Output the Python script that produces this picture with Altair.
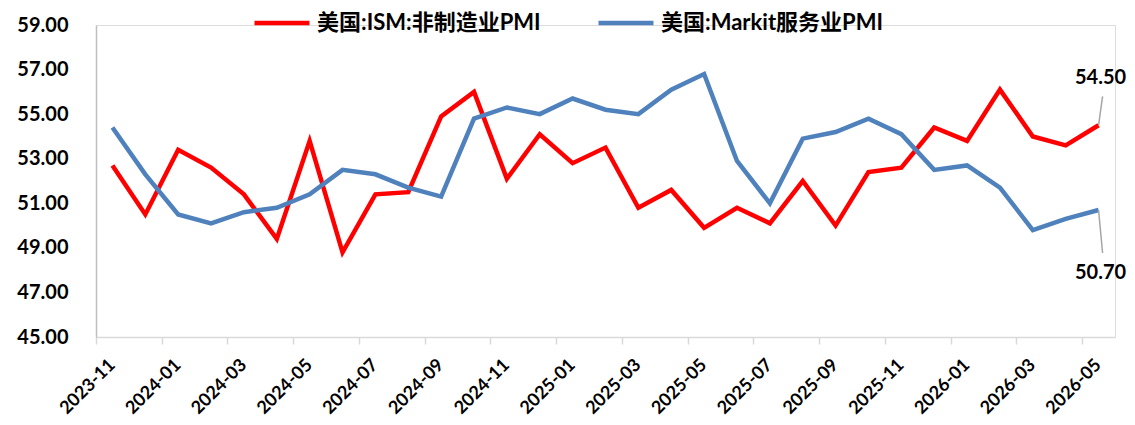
import altair as alt
import pandas as pd

months = [
    "2023-11", "2023-12", "2024-01", "2024-02", "2024-03", "2024-04", "2024-05", "2024-06",
    "2024-07", "2024-08", "2024-09", "2024-10", "2024-11", "2024-12", "2025-01", "2025-02",
    "2025-03", "2025-04", "2025-05", "2025-06", "2025-07", "2025-08", "2025-09", "2025-10",
    "2025-11", "2025-12", "2026-01", "2026-02", "2026-03", "2026-04", "2026-05",
]
ism_services = [
    52.7, 50.5, 53.4, 52.6, 51.4, 49.4, 53.8, 48.8, 51.4, 51.5, 54.9, 56.0, 52.1, 54.1, 52.8, 53.5,
    50.8, 51.6, 49.9, 50.8, 50.1, 52.0, 50.0, 52.4, 52.6, 54.4, 53.8, 56.1, 54.0, 53.6, 54.5,
]
markit_services = [
    54.4, 52.3, 50.5, 50.1, 50.6, 50.8, 51.4, 52.5, 52.3, 51.7, 51.3, 54.8, 55.3, 55.0, 55.7, 55.2,
    55.0, 56.1, 56.8, 52.9, 51.0, 53.9, 54.2, 54.8, 54.1, 52.5, 52.7, 51.7, 49.8, 50.3, 50.7,
]
series_names = ["美国:ISM:非制造业PMI", "美国:Markit服务业PMI"]
series_colors = ["#FF0000", "#4F81BD"]
tick_labels = months[::2]
y_ticks = [45, 47, 49, 51, 53, 55, 57, 59]

rows = []
for i, m in enumerate(months):
    rows.append({"month": m, "pos": i + 0.5, "series": series_names[0], "value": ism_services[i]})
    rows.append({"month": m, "pos": i + 0.5, "series": series_names[1], "value": markit_services[i]})
df = pd.DataFrame(rows)

last = df[df["month"] == months[-1]].copy()
last["label"] = last["value"].map(lambda v: f"{v:.2f}")
last_top = last[last["series"] == series_names[0]]
last_bot = last[last["series"] == series_names[1]]

FONT = "Lato, 'Noto Sans CJK SC', sans-serif"
label_expr = "[" + ",".join(f"'{t}'" for t in tick_labels) + "][round(datum.value/2)]"

x_scale = alt.Scale(domain=[0, len(months)], nice=False, zero=False)
y_scale = alt.Scale(domain=[45, 59], nice=False, zero=False)

lines = alt.Chart(df).mark_line(strokeWidth=4.5, strokeJoin="miter").encode(
    x=alt.X("pos:Q", scale=x_scale, title=None,
            axis=alt.Axis(values=list(range(0, len(months), 2)), labelExpr=label_expr,
                          labelAngle=-45, labelAlign="right", labelBaseline="middle",
                          labelFont=FONT, labelFontSize=18, labelFontWeight="bold",
                          labelColor="#000000", labelOffset=16, labelPadding=18,
                          domainColor="#D9D9D9", domainWidth=1.5, tickColor="#D9D9D9",
                          tickWidth=1.5, tickSize=7, grid=False, labelOverlap=False)),
    y=alt.Y("value:Q", scale=y_scale, title=None,
            axis=alt.Axis(values=y_ticks, format=".2f", labelFont=FONT, labelFontSize=20,
                          labelFontWeight="bold", labelColor="#000000", labelPadding=28,
                          ticks=False, domainColor="#BFBFBF", domainWidth=1.5, grid=False)),
    color=alt.Color("series:N",
                    scale=alt.Scale(domain=series_names, range=series_colors),
                    legend=alt.Legend(title=None, orient="none", legendX=156, legendY=-32,
                                      direction="horizontal", columns=2, symbolType="stroke",
                                      symbolSize=3025, symbolStrokeWidth=4.5,
                                      labelFont=FONT, labelFontSize=22, labelFontWeight="bold",
                                      labelColor="#000000", labelOffset=5, columnPadding=48,
                                      labelLimit=400)),
)

lead_top = alt.Chart(last_top).mark_rule(color="#A6A6A6", strokeWidth=1.5, x2Offset=4, y2Offset=-29).encode(
    x=alt.X("pos:Q", scale=x_scale), y=alt.Y("value:Q", scale=y_scale),
    x2="pos:Q", y2="value:Q")
lead_bot = alt.Chart(last_bot).mark_rule(color="#A6A6A6", strokeWidth=1.5, x2Offset=4, y2Offset=43).encode(
    x=alt.X("pos:Q", scale=x_scale), y=alt.Y("value:Q", scale=y_scale),
    x2="pos:Q", y2="value:Q")
text_top = alt.Chart(last_top).mark_text(font=FONT, fontSize=20, fontWeight="bold", color="#000000",
                                         dx=2, dy=-47).encode(
    x=alt.X("pos:Q", scale=x_scale), y=alt.Y("value:Q", scale=y_scale), text="label:N")
text_bot = alt.Chart(last_bot).mark_text(font=FONT, fontSize=20, fontWeight="bold", color="#000000",
                                         dx=2, dy=63).encode(
    x=alt.X("pos:Q", scale=x_scale), y=alt.Y("value:Q", scale=y_scale), text="label:N")

chart = alt.layer(lines, lead_top, lead_bot, text_top, text_bot).properties(
    width=1019, height=312,
    autosize=alt.AutoSizeParams(type="none"),
    padding={"left": 88, "top": 17, "right": 12, "bottom": 80},
).configure_view(stroke=None).configure(background="#FFFFFF")

chart.save("out.html", embed_options={"renderer": "svg", "actions": False})
